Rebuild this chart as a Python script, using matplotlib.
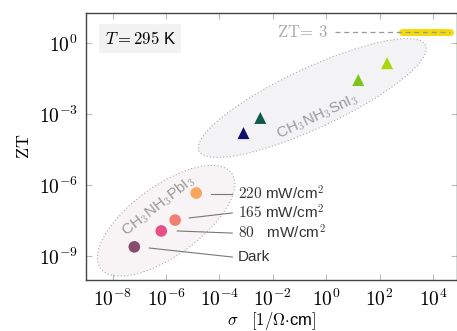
import numpy as np
import matplotlib.pyplot as plt
from matplotlib.patches import Ellipse
from matplotlib.transforms import ScaledTranslation
from matplotlib.ticker import FuncFormatter

plt.rcParams['mathtext.fontset'] = 'cm'
plt.rcParams['font.family'] = ['Liberation Sans', 'DejaVu Sans']

# CH3NH3SnI3 (triangles)
sn_sigma = [10**-3.1, 10**-2.47, 10**1.2, 10**2.28]
sn_zt = [10**-3.8, 10**-3.16, 10**-1.56, 10**-0.85]
sn_colors = ['#10106a', '#0f5a4c', '#7cc61a', '#a8d80c']

# CH3NH3PbI3 (circles): Dark, 80, 165, 220 mW/cm2
pb_labels = ['Dark', r'$80\quad$mW/cm$^2$', r'$165$ mW/cm$^2$', r'$220$ mW/cm$^2$']
pb_sigma = [10**-7.19, 10**-6.18, 10**-5.66, 10**-4.87]
pb_zt = [10**-8.6, 10**-7.93, 10**-7.47, 10**-6.33]
pb_colors = ['#874b6b', '#e94f87', '#f17f74', '#f8a55e']
label_y = [10**-9.03, 10**-8.02, 10**-7.17, 10**-6.37]
line_start = [(10**-6.63, 10**-8.65), (10**-5.58, 10**-7.93), (10**-5.13, 10**-7.38), (10**-4.31, 10**-6.37)]

zt_target = 3

fig = plt.figure(figsize=(4.57, 3.31), dpi=100)
ax = fig.add_axes([86/457, 51/331, 371/457, 267/331])
ax.set_xscale('log')
ax.set_yscale('log')
ax.set_xlim(1e-9, 10**4.9)
ax.set_ylim(1e-10, 10**1.27)

# ellipses drawn in display space (inches) around a data centre
def blob(cx, cy, w, h, ang, fc):
    tr = fig.dpi_scale_trans + ScaledTranslation(cx, cy, ax.transData)
    e = Ellipse((0, 0), w, h, angle=ang, transform=tr, facecolor=fc,
                edgecolor='#aaaaaa', linestyle=(0, (1, 2)), linewidth=0.8, zorder=1)
    ax.add_patch(e)

blob(10**-0.52, 10**-2.32, 2.5, 0.6, 25, '#f3f3f6')
blob(10**-6.0, 10**-7.5, 1.62, 0.7, 36, '#f8f4f6')

ax.text(10**-0.34, 10**-3.12, r'CH$_3$NH$_3$SnI$_3$', rotation=25, color='#999999',
        fontsize=11, ha='center', va='center', zorder=2)
ax.text(10**-6.29, 10**-6.88, r'CH$_3$NH$_3$PbI$_3$', rotation=38, color='#999999',
        fontsize=11, ha='center', va='center', zorder=2)

# ZT = 3 line
ax.plot([10**2.85, 10**4.64], [zt_target, zt_target], color='#f5d90a', lw=5,
        solid_capstyle='round', zorder=3)
ax.plot([10**0.34, 10**4.64], [zt_target, zt_target], color='#999999', lw=0.9,
        linestyle=(0, (4, 3)), zorder=4)
ax.text(10**0.05, zt_target, r'$\mathrm{ZT}\!=\,3$', color='#aaaaaa', fontsize=12,
        ha='right', va='center')

ax.scatter(sn_sigma, sn_zt, marker='^', s=75, c=sn_colors, zorder=5, linewidths=0)
ax.scatter(pb_sigma, pb_zt, marker='o', s=70, c=pb_colors, zorder=5, linewidths=0)

for lab, ly, (x0, y0) in zip(pb_labels, label_y, line_start):
    ax.plot([x0, 10**-3.52], [y0, ly], color='#777777', lw=0.8, zorder=4)
    ax.text(10**-3.3, ly, lab, fontsize=11, color='#333333', va='center', ha='left')

ax.text(0.05, 0.905, r'$T = 295$ K', transform=ax.transAxes, fontsize=12,
        va='center', ha='left',
        bbox=dict(facecolor='#f2f2f2', edgecolor='none', boxstyle='square,pad=0.35'))

pow_fmt = FuncFormatter(lambda v, p: r'$10^{%d}$' % int(round(np.log10(v))))
ax.set_xticks([10.0**k for k in range(-8, 5, 2)])
ax.set_yticks([10.0**k for k in [-9, -6, -3, 0]])
ax.xaxis.set_major_formatter(pow_fmt)
ax.yaxis.set_major_formatter(pow_fmt)
ax.minorticks_off()
ax.tick_params(direction='in', length=4, color='#bbbbbb', labelsize=14,
               top=True, right=True, pad=6)
for s in ax.spines.values():
    s.set_color('#444444')
    s.set_linewidth(1.0)

ax.set_xlabel(r'$\sigma\quad[1/\Omega{\cdot}$cm$]$', fontsize=12, labelpad=0)
ax.set_ylabel(r'$\mathrm{ZT}$', fontsize=13, labelpad=4)

fig.savefig('out.png', dpi=100)
